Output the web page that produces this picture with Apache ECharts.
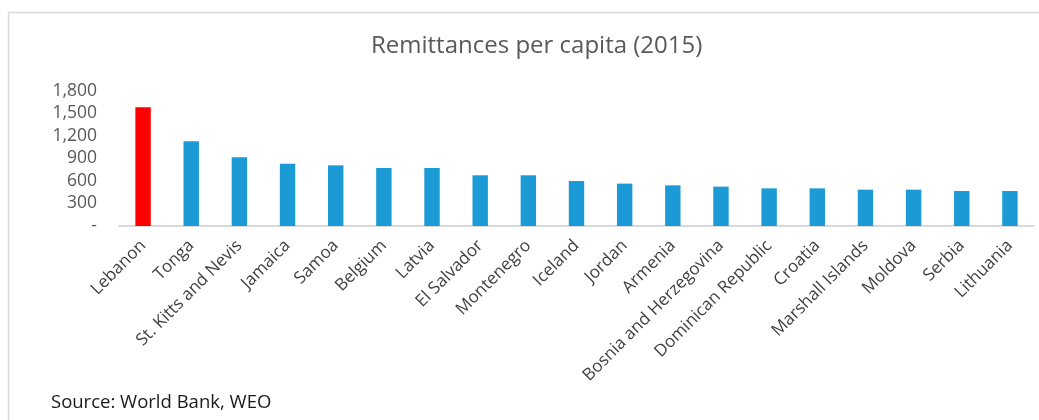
<!DOCTYPE html>
<html>
<head>
<meta charset="utf-8">
<script src="https://cdn.jsdelivr.net/npm/echarts@6/dist/echarts.min.js"></script>
<style>
html,body{margin:0;padding:0;background:#fff;}
#chart{width:1039px;height:420px;}
</style>
</head>
<body>
<div id="chart"></div>
<script>
const categories = ["Lebanon","Tonga","St. Kitts and Nevis","Jamaica","Samoa","Belgium","Latvia","El Salvador","Montenegro","Iceland","Jordan","Armenia","Bosnia and Herzegovina","Dominican Republic","Croatia","Marshall Islands","Moldova","Serbia","Lithuania"];
const values = [1583,1129,916,831,809,773,773,676,676,600,565,542,525,502,502,485,485,467,467];
const highlight = "Lebanon";
const yTicks = [0,300,600,900,1200,1500,1800];

const chart = echarts.init(document.getElementById('chart'), null, {renderer:'canvas'});
const font = "'Open Sans', sans-serif";
chart.setOption({
  animation:false,
  backgroundColor:'#fff',
  title:{
    text:'Remittances per capita (2015)',
    left:366, top:29,
    textStyle:{fontFamily:font,fontSize:24,fontWeight:'normal',color:'#595959'}
  },
  grid:{left:119,right:5,top:91,height:135,containLabel:false},
  xAxis:{
    type:'category', data:categories,
    axisLine:{lineStyle:{color:'#d9d9d9',width:2}},
    axisTick:{show:false},
    axisLabel:{rotate:45,interval:0,margin:17,fontFamily:font,fontSize:17,color:'#404040'}
  },
  yAxis:{
    type:'value', min:yTicks[0], max:yTicks[yTicks.length-1], interval:300,
    splitLine:{show:false},
    axisLine:{show:false}, axisTick:{show:false},
    axisLabel:{margin:22,fontFamily:font,fontSize:17.5,color:'#595959',
      formatter:v=> v===0 ? '-' : v.toLocaleString('en-US')}
  },
  series:[{
    type:'bar', barWidth:'32%',
    data:values.map((v,i)=>({value:v,itemStyle:{color: categories[i]===highlight ? '#ff0000' : '#1b9ad6'}}))
  }],
  graphic:[
    {type:'line',shape:{x1:8.5,y1:12.5,x2:1039,y2:12.5},style:{stroke:'#d9d9d9',lineWidth:1.5}},
    {type:'line',shape:{x1:8.5,y1:12.5,x2:8.5,y2:420},style:{stroke:'#d9d9d9',lineWidth:1.5}},
    {type:'text',left:51,top:393,style:{text:'Source: World Bank, WEO',font:"18.5px 'Open Sans', sans-serif",fill:'#1a1a1a'}}
  ]
});
</script>
</body>
</html>
